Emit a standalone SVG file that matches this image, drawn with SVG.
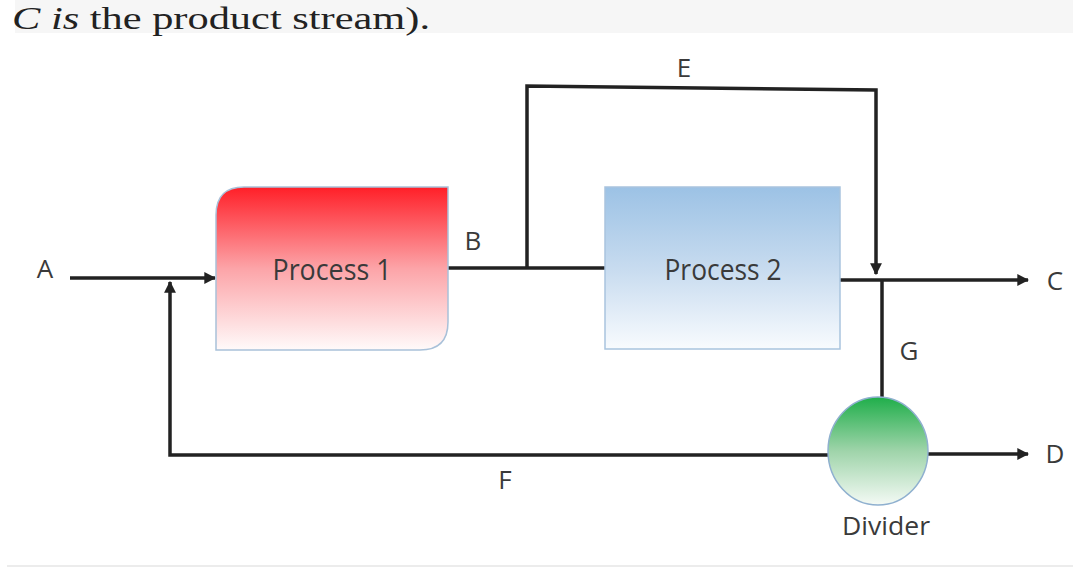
<svg xmlns="http://www.w3.org/2000/svg" width="1073" height="568" viewBox="0 0 1073 568">
<style>
.lbl{font-family:"Open Sans","Liberation Sans",sans-serif;font-size:26px;fill:#3a3a3a;text-anchor:middle}
.proc{font-family:"Open Sans","Liberation Sans",sans-serif;font-size:30px;fill:#3a3a3a;text-anchor:middle}
.ln{fill:none;stroke:#222;stroke-width:3.5;stroke-linejoin:miter}
</style>
<defs>
<linearGradient id="gRed" x1="0" y1="0" x2="0" y2="1"><stop offset="0" stop-color="#ff1f28"/><stop offset="0.5" stop-color="#fca4a8"/><stop offset="1" stop-color="#fffafa"/></linearGradient>
<linearGradient id="gBlue" x1="0" y1="0" x2="0" y2="1"><stop offset="0" stop-color="#9cc2e5"/><stop offset="0.5" stop-color="#c7dbef"/><stop offset="1" stop-color="#f8fbfe"/></linearGradient>
<linearGradient id="gGreen" x1="0" y1="0" x2="0" y2="1"><stop offset="0" stop-color="#1fae4a"/><stop offset="0.5" stop-color="#9fd4aa"/><stop offset="1" stop-color="#f4faf5"/></linearGradient>
<marker id="arr" viewBox="0 0 10 10" refX="9" refY="5" markerWidth="3.4" markerHeight="3.4" orient="auto" markerUnits="strokeWidth"><path d="M0,0 L10,5 L0,10 z" fill="#222"/></marker>
</defs>
<rect x="0" y="0" width="1073" height="568" fill="#ffffff"/>
<rect x="15" y="0" width="1058" height="33" fill="#f6f6f6"/>
<text x="12" y="29" font-family="'Liberation Serif',serif" font-size="32" fill="#222" textLength="418" lengthAdjust="spacingAndGlyphs"><tspan font-style="italic">C is</tspan> the product stream).</text>
<line x1="7" y1="566" x2="1073" y2="566" stroke="#ececec" stroke-width="2"/>
<g id="connectors">
<line class="ln" x1="70" y1="278" x2="215" y2="278" marker-end="url(#arr)"/>
<polyline class="ln" points="828,455 170,455 170,282" marker-end="url(#arr)"/>
<line class="ln" x1="448" y1="268" x2="606" y2="268"/>
<polyline class="ln" points="527,268 527,86 876,90 876,274" marker-end="url(#arr)"/>
<line class="ln" x1="840" y1="280" x2="1028" y2="280" marker-end="url(#arr)"/>
<line class="ln" x1="882" y1="280" x2="882" y2="397"/>
<line class="ln" x1="928" y1="454" x2="1028" y2="454" marker-end="url(#arr)"/>
</g>
<g id="labels">
<text class="lbl" x="45" y="278">A</text>
<text class="lbl" x="473" y="250">B</text>
<text class="lbl" x="684" y="77">E</text>
<text class="lbl" x="1055" y="290">C</text>
<text class="lbl" x="909" y="360">G</text>
<text class="lbl" x="1055" y="463">D</text>
<text class="lbl" x="505" y="489">F</text>
</g>
<g id="process1">
<path d="M244,187 L448,187 L448,322 Q448,350 420,350 L216,350 L216,215 Q216,187 244,187 Z" fill="url(#gRed)" stroke="#a9c1d9" stroke-width="1.5"/>
<text class="proc" x="332" y="280" textLength="119" lengthAdjust="spacingAndGlyphs">Process 1</text>
</g>
<g id="process2">
<rect x="605" y="187" width="235" height="162" fill="url(#gBlue)" stroke="#a9c4de" stroke-width="1.5"/>
<text class="proc" x="723" y="280" textLength="117" lengthAdjust="spacingAndGlyphs">Process 2</text>
</g>
<g id="divider">
<ellipse cx="878" cy="451" rx="50" ry="54" fill="url(#gGreen)" stroke="#8fb0cf" stroke-width="1.5"/>
<text class="lbl" x="886" y="535" textLength="88" lengthAdjust="spacingAndGlyphs">Divider</text>
</g>
</svg>
